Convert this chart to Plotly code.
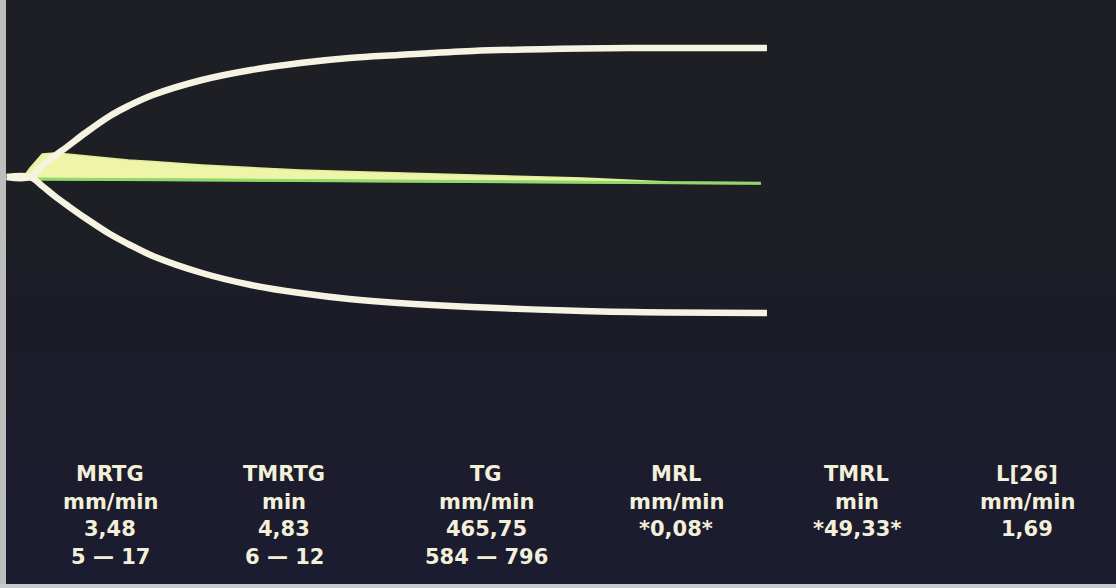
import plotly.graph_objects as go

# ---------------- data ----------------
# time in minutes, amplitude in mm (trace centre line = 0)
t_curve = [-1.9, 0, 1, 2, 3, 4.5, 6.5, 8, 10, 14, 18, 22, 26, 30, 36, 45, 52, 60]
upper_mm = [0, 0, 5.5, 10.5, 15, 22, 30.5, 35.5, 41, 48.5, 53.5, 57, 59.5, 61, 63, 64.25, 64.5, 64.5]
lower_mm = [0, 0, -4.5, -9.5, -14, -20.5, -28.5, -33.5, -39.5, -48, -54, -58, -61, -63, -65, -67, -67.75, -68]

# velocity curve (filled) and its drifting baseline
t_vel = [-0.65, 0, 1, 2, 3, 4.5, 6.5, 8, 10, 14, 18, 22, 26, 30, 36, 45, 52]
vel_mm = [-1, 4.5, 11.5, 12, 11.5, 10.5, 9.5, 8.5, 7.75, 6, 4.75, 3.5, 2.75, 2, 1, -0.5, -2.5]
t_base = [-0.65, 59.5]
base_mm = [-1, -3.15]

# parameter table
params = ["MRTG", "TMRTG", "TG", "MRL", "TMRL", "L[26]"]
units = ["mm/min", "min", "mm/min", "mm/min", "min", "mm/min"]
values = ["3,48", "4,83", "465,75", "*0,08*", "*49,33*", "1,69"]
ranges = ["5 — 17", "6 — 12", "584 — 796", "", "", ""]

# ---------------- layout constants ----------------
W, H = 1116, 588
X0_PX, PX_PER_MIN = 30, 12.283     # time 0 position and scale
Y0_PX, PX_PER_MM = 177, 2.0        # amplitude 0 position and scale
col_x_px = [110, 284, 486, 676, 857, 1027]
row_y_px = [474, 501.5, 529, 556.5]

WHITE = "#f6f3e2"
TEXT = "#f3f0da"
BG = "#1d1f25"

fig = go.Figure()

# velocity baseline (green) then filled velocity curve
fig.add_trace(go.Scatter(x=t_base, y=base_mm, mode="lines",
                         line=dict(color="#93d86c", width=3), hoverinfo="skip"))
fig.add_trace(go.Scatter(x=t_vel, y=vel_mm, mode="lines", fill="tonexty",
                         fillcolor="#eef4a8", line=dict(color="#e4ee98", width=1.5),
                         hoverinfo="skip"))
fig.add_trace(go.Scatter(x=t_base, y=base_mm, mode="lines",
                         line=dict(color="#93d86c", width=2.5), hoverinfo="skip"))

# amplitude envelope
fig.add_trace(go.Scatter(x=t_curve, y=upper_mm, mode="lines", line_shape="spline",
                         line=dict(color=WHITE, width=6.5), hoverinfo="skip"))
fig.add_trace(go.Scatter(x=t_curve, y=lower_mm, mode="lines", line_shape="spline",
                         line=dict(color=WHITE, width=6.5), hoverinfo="skip"))

# parameter text
for i in range(len(params)):
    lines = [params[i], units[i], values[i], ranges[i]]
    for j, txt in enumerate(lines):
        if not txt:
            continue
        fig.add_annotation(x=col_x_px[i] / W, y=1 - row_y_px[j] / H,
                           xref="paper", yref="paper", text=txt, showarrow=False,
                           xanchor="center", yanchor="middle",
                           font=dict(family="DejaVu Sans", size=21, color=TEXT, weight="bold"))

# photo frame edges
fig.add_shape(type="rect", xref="paper", yref="paper", x0=0, x1=6 / W, y0=0, y1=1,
              fillcolor="#bdbdbd", line_width=0, layer="above")
fig.add_shape(type="rect", xref="paper", yref="paper", x0=0, x1=1, y0=0, y1=4 / H,
              fillcolor="#c9cacd", line_width=0, layer="above")
# gradual bluish tint towards the bottom
n_bands = 12
for k in range(n_bands):
    fig.add_shape(type="rect", xref="paper", yref="paper", x0=0, x1=1,
                  y0=0, y1=0.6 * (k + 1) / n_bands,
                  fillcolor="rgba(28,40,75,0.035)", line_width=0, layer="below")

fig.update_xaxes(range=[-X0_PX / PX_PER_MIN, (W - X0_PX) / PX_PER_MIN],
                 visible=False, showgrid=False, zeroline=False, fixedrange=True)
fig.update_yaxes(range=[-(H - Y0_PX) / PX_PER_MM, Y0_PX / PX_PER_MM],
                 visible=False, showgrid=False, zeroline=False, fixedrange=True)
fig.update_layout(width=W, height=H, margin=dict(l=0, r=0, t=0, b=0),
                  paper_bgcolor=BG, plot_bgcolor=BG, showlegend=False)

fig.write_html("out.html", config={"displayModeBar": False},
               post_script="document.body.style.margin='0';")
